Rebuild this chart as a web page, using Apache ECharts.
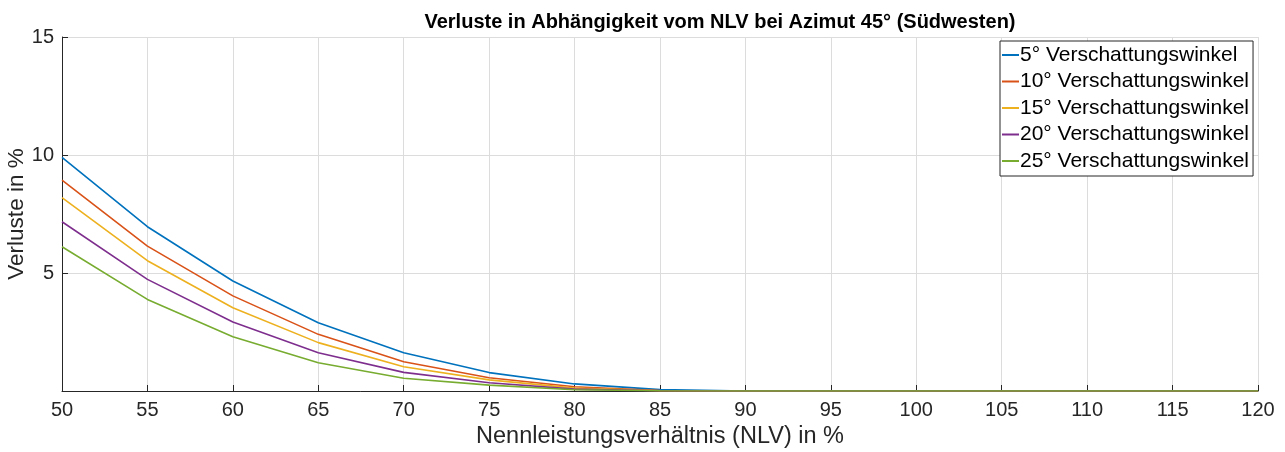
<!DOCTYPE html>
<html>
<head>
<meta charset="utf-8">
<script src="https://cdn.jsdelivr.net/npm/echarts@6/dist/echarts.min.js"></script>
<style>
    html, body { margin: 0; padding: 0; background: #fff; }
    #chart { width: 1285px; height: 452px; }
</style>
</head>
<body>
<div id="chart"></div>
<script>
// NLV in %
var nlv = [50, 55, 60, 65, 70, 75, 80, 85, 90, 95, 100, 105, 110, 115, 120];

// Verluste in % per Verschattungswinkel
var w5  = [9.90, 6.96, 4.66, 2.89, 1.62, 0.78, 0.30, 0.06, 0, 0, 0, 0, 0, 0, 0];
var w10 = [8.94, 6.14, 4.03, 2.40, 1.24, 0.56, 0.18, 0.02, 0, 0, 0, 0, 0, 0, 0];
var w15 = [8.19, 5.52, 3.53, 2.05, 1.03, 0.47, 0.12, 0.01, 0, 0, 0, 0, 0, 0, 0];
var w20 = [7.17, 4.73, 2.92, 1.62, 0.79, 0.35, 0.08, 0.01, 0, 0, 0, 0, 0, 0, 0];
var w25 = [6.11, 3.88, 2.30, 1.20, 0.54, 0.25, 0.05, 0.01, 0, 0, 0, 0, 0, 0, 0];

var names = ['5° Verschattungswinkel', '10° Verschattungswinkel', '15° Verschattungswinkel',
    '20° Verschattungswinkel', '25° Verschattungswinkel'];
var colors = ['#0072BD', '#D95319', '#EDB120', '#7E2F8E', '#77AC30'];
var yTicks = [5, 10, 15];

var font = "'Liberation Sans', Arial, sans-serif";

function pairs(ys) {
    return nlv.map(function (x, i) { return [x, ys[i]]; });
}

var chart = echarts.init(document.getElementById('chart'));

chart.setOption({
    animation: false,
    color: colors,
    textStyle: { fontFamily: font },
    title: {
        text: 'Verluste in Abhängigkeit vom NLV bei Azimut 45° (Südwesten)',
        left: 715,
        textAlign: 'center',
        top: 7,
        textStyle: { fontFamily: font, fontSize: 20, fontWeight: 'bold', color: '#000' }
    },
    grid: { left: 62, right: 27, top: 37, bottom: 61, outerBoundsMode: 'none' },
    legend: {
        orient: 'vertical',
        left: 1000,
        top: 41,
        padding: [2, 4, 3, 2],
        itemGap: 2.5,
        itemWidth: 17,
        itemHeight: 2,
        icon: 'rect',
        backgroundColor: '#fff',
        borderColor: '#262626',
        borderWidth: 1,
        textStyle: { fontFamily: font, fontSize: 21, lineHeight: 24, color: '#000', padding: [0, 0, 0, -4] },
        data: names
    },
    xAxis: {
        type: 'value',
        min: 50,
        max: 120,
        interval: 5,
        name: 'Nennleistungsverhältnis (NLV) in %',
        nameLocation: 'middle',
        nameGap: 34,
        nameMoveOverlap: false,
        nameTextStyle: { fontFamily: font, fontSize: 23.5, color: '#262626' },
        axisLine: { lineStyle: { color: '#262626', width: 1 } },
        axisTick: { inside: true, length: 6, lineStyle: { color: '#262626' } },
        axisLabel: { fontFamily: font, fontSize: 20, color: '#262626', margin: 9 },
        splitLine: { show: true, lineStyle: { color: '#dcdcdc', width: 1 } }
    },
    yAxis: {
        type: 'value',
        min: 0,
        max: 15,
        interval: 5,
        name: 'Verluste in %',
        nameLocation: 'middle',
        nameGap: 34,
        nameMoveOverlap: false,
        nameTextStyle: { fontFamily: font, fontSize: 22.5, color: '#262626' },
        axisLine: { show: true, lineStyle: { color: '#262626', width: 1 } },
        axisTick: { show: true, inside: true, length: 6, lineStyle: { color: '#262626' } },
        axisLabel: {
            fontFamily: font, fontSize: 20, color: '#262626', margin: 8,
            formatter: function (v) { return yTicks.indexOf(v) >= 0 ? String(v) : ''; }
        },
        splitLine: { show: true, lineStyle: { color: '#dcdcdc', width: 1 } }
    },
    series: [w5, w10, w15, w20, w25].map(function (ys, i) {
        return {
            name: names[i],
            type: 'line',
            showSymbol: false,
            lineStyle: { width: 1.6, color: colors[i] },
            itemStyle: { color: colors[i] },
            data: pairs(ys)
        };
    })
});
</script>
</body>
</html>
